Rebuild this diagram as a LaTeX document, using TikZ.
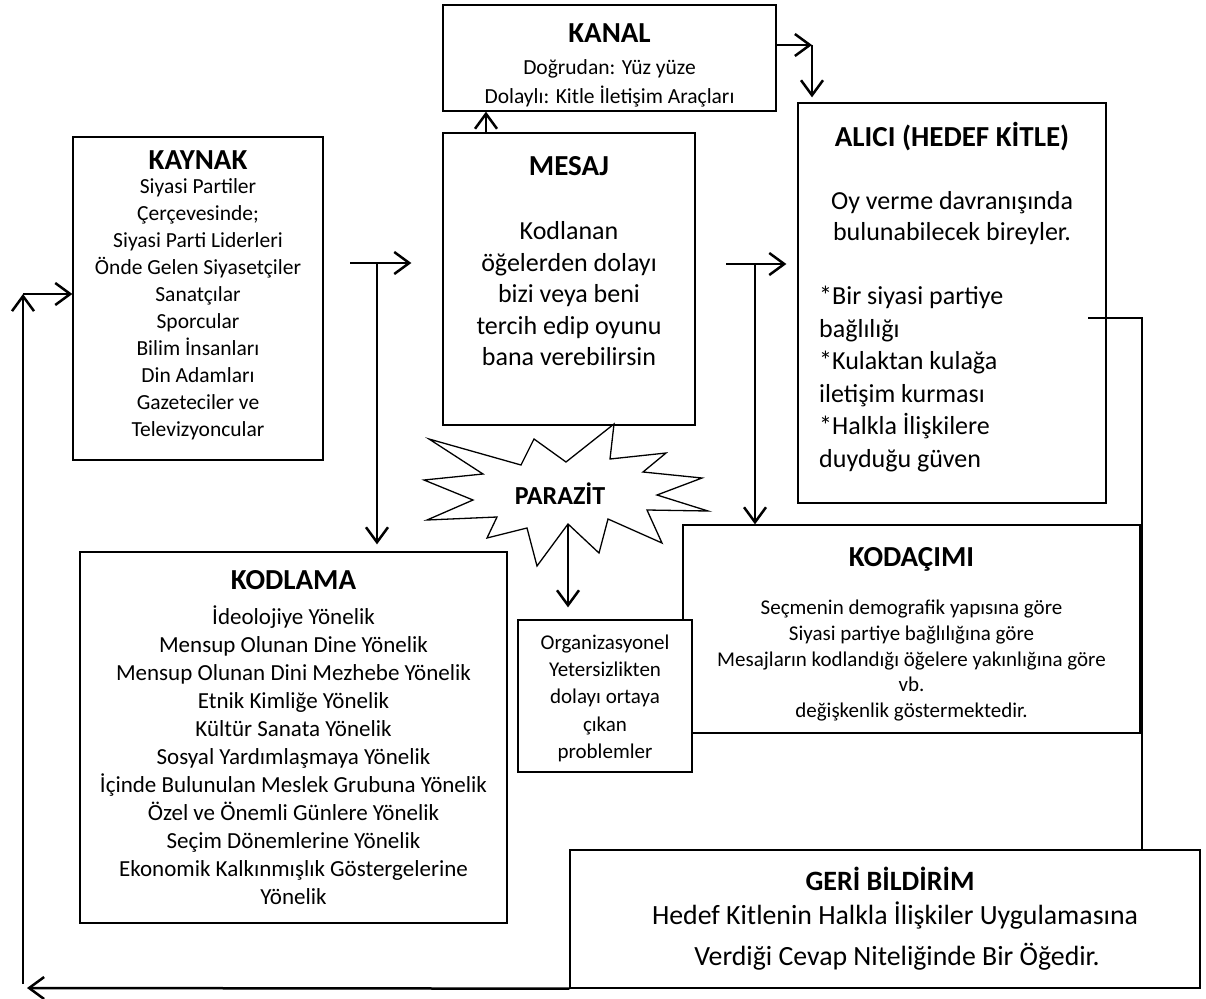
\documentclass[tikz,border=0pt]{standalone}
\usepackage{fontspec}
\setmainfont{Carlito}
\usetikzlibrary{arrows.meta,positioning}

\begin{document}
\begin{tikzpicture}[x=1pt, y=-1pt, >={Straight Barb[length=15pt,width=22pt]}]
  \tikzset{
    box/.style={draw, line width=1.3pt, fill=white, inner sep=0pt},
    ttl/.style={font=\bfseries\fontsize{29}{34}\selectfont, inner sep=0pt, text height=22pt, text depth=4pt},
    body/.style={font=\fontsize{21.5}{26}\selectfont, inner sep=0pt, text height=16pt, text depth=3pt},
    big_body/.style={font=\fontsize{26}{31}\selectfont, inner sep=0pt, text height=19pt, text depth=4pt},
    arr/.style={->, line width=2.5pt},
    fb_line/.style={line width=2pt}
  }
  \useasboundingbox (0,0) rectangle (1206,998);

  % Kutular
  \node[box, minimum width=333pt, minimum height=106pt] (kanal) at (609.5,58) {};
  \node[box, minimum width=252pt, minimum height=292pt] (mesaj) at (569,279) {};
  \node[box, minimum width=250pt, minimum height=323pt] (kaynak) at (198,298.5) {};
  \node[box, minimum width=308pt, minimum height=400pt] (alici) at (952,303) {};
  \node[box, minimum width=427pt, minimum height=371pt] (kodlama) at (293.5,737.5) {};
  \node[box, minimum width=457pt, minimum height=208pt] (kodacimi) at (911.5,629) {};
  \node[box, minimum width=174pt, minimum height=152pt] (org) at (605,696) {};
  \node[box, minimum width=630pt, minimum height=138pt] (geri) at (885,919) {};

  % Parazit yildizi
  \draw[line width=1.3pt, fill=white] (614,424) -- (610,459) -- (666,453) -- (643,472)
    -- (702,478) -- (657,495) -- (708,511) -- (647,510) -- (662,543) -- (608,519)
    -- (599,553) -- (568,524) -- (537,566) -- (527,528) -- (487,538) -- (497,517)
    -- (427,520) -- (473,500) -- (424,480) -- (483,474) -- (429,439) -- (521,465)
    -- (534,439) -- (566,462) -- cycle;
  \node[font=\bfseries\fontsize{26}{30}\selectfont, inner sep=0pt] (parazit) at (560,494) {PARAZİT};

  % Metinler
  \node[ttl] (kanalt) at (609.5,33) {KANAL};
  \node[body] (kanal1) at (609.5,68) {Doğrudan: Yüz yüze};
  \node[body] (kanal2) at (609.5,97) {Dolaylı: Kitle İletişim Araçları};

  \node[ttl] (kaynakt) at (198,160) {KAYNAK};
  \foreach \t [count=\i] in {Siyasi Partiler, Çerçevesinde;, Siyasi Parti Liderleri,
      Önde Gelen Siyasetçiler, Sanatçılar, Sporcular, Bilim İnsanları, Din Adamları,
      Gazeteciler ve, Televizyoncular}
    \node[body] (kaynak\i) at (198,{187+27*(\i-1)}) {\t};

  \node[ttl] (mesajt) at (569,166) {MESAJ};
  \foreach \t [count=\i] in {Kodlanan, öğelerden dolayı, bizi veya beni,
      tercih edip oyunu, bana verebilirsin}
    \node[big_body] (mesaj\i) at (569,{232+31.5*(\i-1)}) {\t};

  \node[ttl] (alicit) at (952,137) {ALICI (HEDEF KİTLE)};
  \node[big_body] (alici1) at (952,202) {Oy verme davranışında};
  \node[big_body] (alici2) at (952,233) {bulunabilecek bireyler.};
  \foreach \t [count=\i] in {*Bir siyasi partiye, bağlılığı, *Kulaktan kulağa,
      iletişim kurması, *Halkla İlişkilere, duyduğu güven}
    \node[big_body, anchor=west] (alicib\i) at (819,{297+32.6*(\i-1)}) {\t};

  \node[ttl] (kodlamat) at (293.5,580) {KODLAMA};
  \foreach \t [count=\i] in {İdeolojiye Yönelik, Mensup Olunan Dine Yönelik,
      Mensup Olunan Dini Mezhebe Yönelik, Etnik Kimliğe Yönelik, Kültür Sanata Yönelik,
      Sosyal Yardımlaşmaya Yönelik, İçinde Bulunulan Meslek Grubuna Yönelik,
      Özel ve Önemli Günlere Yönelik, Seçim Dönemlerine Yönelik,
      Ekonomik Kalkınmışlık Göstergelerine, Yönelik}
    \node[body, font=\fontsize{23}{28}\selectfont] (kodlama\i) at (293.5,{618+28*(\i-1)}) {\t};

  \node[ttl] (kodacimit) at (911.5,557) {KODAÇIMI};
  \foreach \t [count=\i] in {Seçmenin demografik yapısına göre,
      Siyasi partiye bağlılığına göre, Mesajların kodlandığı öğelere yakınlığına göre,
      vb., değişkenlik göstermektedir.}
    \node[body, font=\fontsize{21}{26}\selectfont] (kodacimi\i) at (911.5,{608+25.8*(\i-1)}) {\t};

  \foreach \t [count=\i] in {Organizasyonel, Yetersizlikten, dolayı ortaya, çıkan, problemler}
    \node[body, font=\fontsize{21}{26}\selectfont] (org\i) at (605,{643+27.2*(\i-1)}) {\t};

  \node[ttl, font=\bfseries\fontsize{28}{33}\selectfont] (gerit) at (890,881) {GERİ BİLDİRİM};
  \node[big_body, font=\fontsize{27.8}{33}\selectfont] (geri1) at (895,917) {Hedef Kitlenin Halkla İlişkiler Uygulamasına};
  \node[big_body, font=\fontsize{27.8}{33}\selectfont] (geri2) at (897,958) {Verdiği Cevap Niteliğinde Bir Öğedir.};

  % Oklar
  \coordinate (k1) at (350,263);
  \coordinate (k2) at (377,263);
  \draw[arr, shorten >=31pt] (k1) -- (k1 -| mesaj.west);
  \draw[arr, shorten >=7pt] (k2) -- (k2 |- kodlama.north);

  \draw[arr] ([xshift=-83pt]mesaj.north) -- ([xshift=-83pt]mesaj.north |- kanal.south);
  \coordinate (c1) at (812,45);
  \draw[arr] (kanal.east |- c1) -- (c1);
  \draw[arr, shorten >=5pt] (c1) -- (c1 |- alici.north);

  \coordinate (m1) at (726,264);
  \coordinate (m2) at (755,264);
  \draw[arr, shorten >=11pt] (m1) -- (m1 -| alici.west);
  \draw[arr] (m2) -- (m2 |- kodacimi.north);

  \coordinate (p1) at (568,524);
  \draw[arr, shorten >=12pt] (p1) -- (p1 |- org.north);

  % Geri bildirim dongusu
  \coordinate (f1) at (1088,318);
  \coordinate (f2) at (1142,318);
  \draw[fb_line] (f1) -- (f2) -- (f2 |- geri.north);
  \coordinate (f3) at (27,988);
  \coordinate (f5) at (23,984);
  \coordinate (f4) at (23,294);
  \draw[arr] (geri.south west) -- (f3);
  \draw[arr] (f5) -- (f4);
  \draw[arr] (f4) -- (f4 -| kaynak.west);
\end{tikzpicture}
\end{document}
